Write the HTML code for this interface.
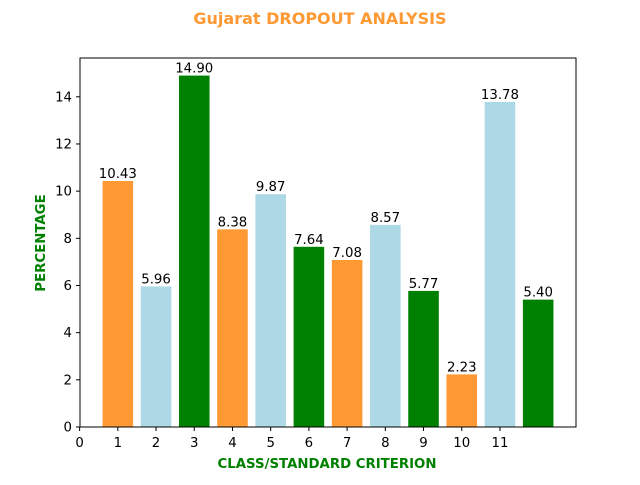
<!DOCTYPE html>
<html><head><meta charset="utf-8"><style>body{margin:0;background:#fff}svg{font-family:"DejaVu Sans","Liberation Sans",sans-serif}</style></head>
<body>
<svg id="c" width="640" height="480" xmlns="http://www.w3.org/2000/svg">
<text x="320" y="24" text-anchor="middle" font-size="16" font-weight="bold" fill="#ff9933">Gujarat DROPOUT ANALYSIS</text>
<text x="327" y="468" text-anchor="middle" font-size="13.3" font-weight="bold" fill="#008000">CLASS/STANDARD CRITERION</text>
<text transform="translate(45,243) rotate(-90)" text-anchor="middle" font-size="13.3" font-weight="bold" fill="#008000">PERCENTAGE</text>
<g id="bars"></g>
<g id="ticks"></g>
<rect x="80" y="58" width="496" height="369" fill="none" stroke="#000" stroke-width="1"/>
</svg>
<script>
const categories=[1,2,3,4,5,6,7,8,9,10,11,12];
const values=[10.43,5.96,14.90,8.38,9.87,7.64,7.08,8.57,5.77,2.23,13.78,5.40];
const colors=["#ff9933","#add8e6","#008000"];
const xTicks=[0,1,2,3,4,5,6,7,8,9,10,11];
const yTicks=[0,2,4,6,8,10,12,14];
const NS="http://www.w3.org/2000/svg";
const x0=0.01,x1=12.99,yMax=15.645;
const X=v=>80+(v-x0)/(x1-x0)*496;
const Y=v=>427-v/yMax*369;
const bars=document.getElementById('bars'),ticks=document.getElementById('ticks');
function mk(tag,attrs,parent){const e=document.createElementNS(NS,tag);for(const k in attrs)e.setAttribute(k,attrs[k]);parent.appendChild(e);return e;}
categories.forEach((c,i)=>{
  const r=mk('rect',{x:X(c-0.4),y:Y(values[i]),width:X(c+0.4)-X(c-0.4),height:Y(0)-Y(values[i]),fill:colors[i%3]},bars);
  
  
  const t=mk('text',{x:X(c),y:Y(values[i])-3,'text-anchor':'middle','font-size':'13.3',fill:'#000'},bars);
  t.textContent=values[i].toFixed(2);
  
  
});
xTicks.forEach(v=>{
  const l=mk('line',{x1:X(v),x2:X(v),y1:427,y2:431,stroke:'#000'},ticks);
  
  
  const t=mk('text',{x:X(v),y:447,'text-anchor':'middle','font-size':'13.3'},ticks);
  t.textContent=v;
  
  
});
yTicks.forEach(v=>{
  const l=mk('line',{x1:76,x2:80,y1:Y(v),y2:Y(v),stroke:'#000'},ticks);
  
  
  const t=mk('text',{x:72,y:Y(v)+4.5,'text-anchor':'end','font-size':'13.3'},ticks);
  t.textContent=v;
  
  
});
</script>
</body></html>
